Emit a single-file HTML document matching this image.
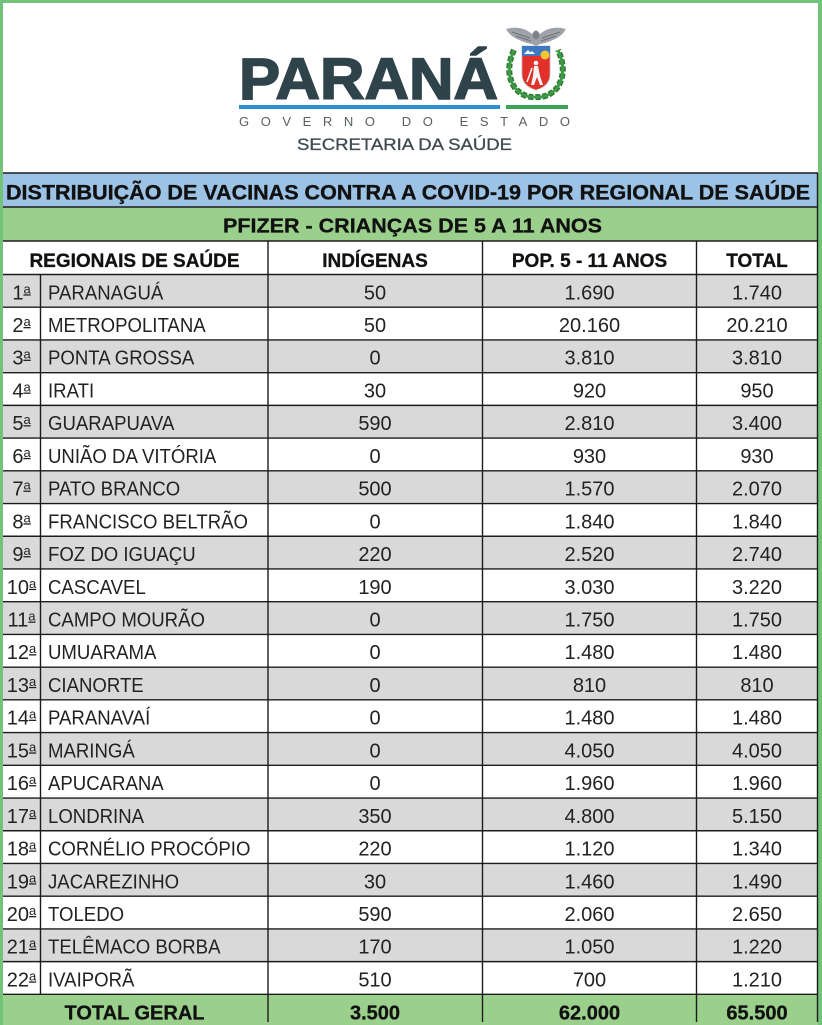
<!DOCTYPE html>
<html><head><meta charset="utf-8"><style>
html,body{margin:0;padding:0;background:#fff;}
svg{display:block;}
</style></head><body>
<svg width="822" height="1025" viewBox="0 0 822 1025" xmlns="http://www.w3.org/2000/svg" font-family="'Liberation Sans', Arial, sans-serif">
<!-- frame -->
<rect x="0" y="0" width="822" height="1025" fill="#74c27a"/>
<rect x="3" y="3" width="815" height="1022" fill="#ffffff"/>

<!-- LOGO -->
<text x="239" y="99" font-size="58" font-weight="bold" fill="#2f434b" stroke="#2f434b" stroke-width="1.6" textLength="259" lengthAdjust="spacingAndGlyphs">PARANÁ</text>
<rect x="239" y="105" width="261" height="4" fill="#2b8fd2"/>
<rect x="506" y="105" width="62" height="4" fill="#3aa655"/>
<text x="239" y="126" font-size="13" fill="#5a5f62" textLength="331" lengthAdjust="spacing">GOVERNO DO ESTADO</text>
<text x="297" y="150" font-size="17" fill="#3d4b51" stroke="#3d4b51" stroke-width="0.3" textLength="215" lengthAdjust="spacingAndGlyphs">SECRETARIA DA SAÚDE</text>
<!-- coat of arms -->
<g>
  <!-- eagle -->
  <path d="M506 29 Q520 25 531 33 L536 37 L541 33 Q552 25 566 29 Q562 36 555 39 Q547 43 540 44 L536 46 L532 44 Q525 43 517 39 Q510 36 506 29Z" fill="#9fa3a7"/>
  <path d="M512 32 L530 38 M560 32 L542 38 M516 36 L531 41 M556 36 L541 41" stroke="#6f7377" stroke-width="1"/>
  <ellipse cx="536" cy="35" rx="3.5" ry="4.5" fill="#7f8387"/>
  <!-- wreath -->
  <path d="M514 50 Q504 72 515 88 Q524 98 536 97 Q548 98 557 88 Q568 72 558 50" fill="none" stroke="#2c7a34" stroke-width="6" stroke-dasharray="5 2"/>
  <path d="M514 50 Q504 72 515 88 Q524 98 536 97 Q548 98 557 88 Q568 72 558 50" fill="none" stroke="#3f9a45" stroke-width="3"/>
  <!-- shield -->
  <path d="M522 46 L550 46 L550 74 Q550 86 536 90 Q522 86 522 74Z" fill="#e2312b" stroke="#b8b8b8" stroke-width="0.8"/>
  <rect x="522" y="46" width="28" height="10" fill="#3d78c2"/>
  <circle cx="545" cy="55" r="4.5" fill="#f2c531"/>
  <path d="M524 54 L528 50 L532 54Z M528 54 L532 51 L535 54Z" fill="#fff"/>
  <circle cx="536" cy="63" r="2.3" fill="#f4f4f4"/>
  <path d="M534 66 L538 66 L540 76 L543 85 L540 85 L537 77 L534 85 L531 85 L533 76Z" fill="#f4f4f4"/>
  <path d="M532 68 L527 82" stroke="#f4f4f4" stroke-width="1.5"/>
</g>

<!-- title rows -->
<rect x="3" y="173" width="814" height="34" fill="#9cc3e5"/>
<rect x="3" y="207" width="814" height="34" fill="#9bd08c"/>
<text x="6" y="199.5" font-size="21" font-weight="bold" fill="#111" stroke="#111" stroke-width="0.35" textLength="804" lengthAdjust="spacingAndGlyphs">DISTRIBUIÇÃO DE VACINAS CONTRA A COVID-19 POR REGIONAL DE SAÚDE</text>
<text x="223" y="232.5" font-size="20" font-weight="bold" fill="#111" stroke="#111" stroke-width="0.3" textLength="379" lengthAdjust="spacingAndGlyphs">PFIZER - CRIANÇAS DE 5 A 11 ANOS</text>

<!-- gray odd rows -->
<g fill="#d9d9d9">
<rect x="3" y="274.5" width="814" height="32.72"/>
<rect x="3" y="339.94" width="814" height="32.72"/>
<rect x="3" y="405.38" width="814" height="32.72"/>
<rect x="3" y="470.82" width="814" height="32.72"/>
<rect x="3" y="536.26" width="814" height="32.72"/>
<rect x="3" y="601.7" width="814" height="32.72"/>
<rect x="3" y="667.14" width="814" height="32.72"/>
<rect x="3" y="732.58" width="814" height="32.72"/>
<rect x="3" y="798.02" width="814" height="32.72"/>
<rect x="3" y="863.46" width="814" height="32.72"/>
<rect x="3" y="928.9" width="814" height="32.72"/>
</g>
<!-- total row -->
<rect x="3" y="994.34" width="815" height="31" fill="#9bd08c"/>

<!-- lines -->
<g stroke="#1c1c1c" stroke-width="1.4" fill="none">
<line x1="3" y1="173" x2="818" y2="173"/>
<line x1="3" y1="207" x2="818" y2="207"/>
<line x1="3" y1="241" x2="818" y2="241"/>
<line x1="3" y1="274.5" x2="818" y2="274.5"/>
<line x1="3" y1="307.22" x2="818" y2="307.22"/>
<line x1="3" y1="339.94" x2="818" y2="339.94"/>
<line x1="3" y1="372.66" x2="818" y2="372.66"/>
<line x1="3" y1="405.38" x2="818" y2="405.38"/>
<line x1="3" y1="438.1" x2="818" y2="438.1"/>
<line x1="3" y1="470.82" x2="818" y2="470.82"/>
<line x1="3" y1="503.54" x2="818" y2="503.54"/>
<line x1="3" y1="536.26" x2="818" y2="536.26"/>
<line x1="3" y1="568.98" x2="818" y2="568.98"/>
<line x1="3" y1="601.7" x2="818" y2="601.7"/>
<line x1="3" y1="634.42" x2="818" y2="634.42"/>
<line x1="3" y1="667.14" x2="818" y2="667.14"/>
<line x1="3" y1="699.86" x2="818" y2="699.86"/>
<line x1="3" y1="732.58" x2="818" y2="732.58"/>
<line x1="3" y1="765.3" x2="818" y2="765.3"/>
<line x1="3" y1="798.02" x2="818" y2="798.02"/>
<line x1="3" y1="830.74" x2="818" y2="830.74"/>
<line x1="3" y1="863.46" x2="818" y2="863.46"/>
<line x1="3" y1="896.18" x2="818" y2="896.18"/>
<line x1="3" y1="928.9" x2="818" y2="928.9"/>
<line x1="3" y1="961.62" x2="818" y2="961.62"/>
<line x1="3" y1="994.34" x2="818" y2="994.34"/>
<line x1="40.5" y1="274.5" x2="40.5" y2="994.34"/>
<line x1="268" y1="241" x2="268" y2="1022"/>
<line x1="482.5" y1="241" x2="482.5" y2="1022"/>
<line x1="696.5" y1="241" x2="696.5" y2="1022"/>
<line x1="817.5" y1="173" x2="817.5" y2="1022"/>
</g>

<!-- header -->
<g font-size="19" font-weight="bold" fill="#111" stroke="#111" stroke-width="0.3" text-anchor="middle">
<text x="134.5" y="267">REGIONAIS DE SAÚDE</text>
<text x="375" y="267">INDÍGENAS</text>
<text x="589.5" y="267">POP. 5 - 11 ANOS</text>
<text x="757" y="267">TOTAL</text>
</g>

<!-- ordinals -->
<g font-size="20" fill="#222" text-anchor="middle">
<text x="21.5" y="299.3">1<tspan font-size="13" dy="-6" text-decoration="underline">a</tspan></text>
<text x="21.5" y="332">2<tspan font-size="13" dy="-6" text-decoration="underline">a</tspan></text>
<text x="21.5" y="364.7">3<tspan font-size="13" dy="-6" text-decoration="underline">a</tspan></text>
<text x="21.5" y="397.5">4<tspan font-size="13" dy="-6" text-decoration="underline">a</tspan></text>
<text x="21.5" y="430.2">5<tspan font-size="13" dy="-6" text-decoration="underline">a</tspan></text>
<text x="21.5" y="462.9">6<tspan font-size="13" dy="-6" text-decoration="underline">a</tspan></text>
<text x="21.5" y="495.6">7<tspan font-size="13" dy="-6" text-decoration="underline">a</tspan></text>
<text x="21.5" y="528.3">8<tspan font-size="13" dy="-6" text-decoration="underline">a</tspan></text>
<text x="21.5" y="561.1">9<tspan font-size="13" dy="-6" text-decoration="underline">a</tspan></text>
<text x="21.5" y="593.8">10<tspan font-size="13" dy="-6" text-decoration="underline">a</tspan></text>
<text x="21.5" y="626.5">11<tspan font-size="13" dy="-6" text-decoration="underline">a</tspan></text>
<text x="21.5" y="659.2">12<tspan font-size="13" dy="-6" text-decoration="underline">a</tspan></text>
<text x="21.5" y="691.9">13<tspan font-size="13" dy="-6" text-decoration="underline">a</tspan></text>
<text x="21.5" y="724.7">14<tspan font-size="13" dy="-6" text-decoration="underline">a</tspan></text>
<text x="21.5" y="757.4">15<tspan font-size="13" dy="-6" text-decoration="underline">a</tspan></text>
<text x="21.5" y="790.1">16<tspan font-size="13" dy="-6" text-decoration="underline">a</tspan></text>
<text x="21.5" y="822.8">17<tspan font-size="13" dy="-6" text-decoration="underline">a</tspan></text>
<text x="21.5" y="855.5">18<tspan font-size="13" dy="-6" text-decoration="underline">a</tspan></text>
<text x="21.5" y="888.3">19<tspan font-size="13" dy="-6" text-decoration="underline">a</tspan></text>
<text x="21.5" y="921">20<tspan font-size="13" dy="-6" text-decoration="underline">a</tspan></text>
<text x="21.5" y="953.7">21<tspan font-size="13" dy="-6" text-decoration="underline">a</tspan></text>
<text x="21.5" y="986.4">22<tspan font-size="13" dy="-6" text-decoration="underline">a</tspan></text>
</g>

<!-- names -->
<g font-size="20" fill="#222" transform="translate(48 0) scale(0.93 1)">
<text x="0" y="299.3">PARANAGUÁ</text>
<text x="0" y="332">METROPOLITANA</text>
<text x="0" y="364.7">PONTA GROSSA</text>
<text x="0" y="397.5">IRATI</text>
<text x="0" y="430.2">GUARAPUAVA</text>
<text x="0" y="462.9">UNIÃO DA VITÓRIA</text>
<text x="0" y="495.6">PATO BRANCO</text>
<text x="0" y="528.3">FRANCISCO BELTRÃO</text>
<text x="0" y="561.1">FOZ DO IGUAÇU</text>
<text x="0" y="593.8">CASCAVEL</text>
<text x="0" y="626.5">CAMPO MOURÃO</text>
<text x="0" y="659.2">UMUARAMA</text>
<text x="0" y="691.9">CIANORTE</text>
<text x="0" y="724.7">PARANAVAÍ</text>
<text x="0" y="757.4">MARINGÁ</text>
<text x="0" y="790.1">APUCARANA</text>
<text x="0" y="822.8">LONDRINA</text>
<text x="0" y="855.5">CORNÉLIO PROCÓPIO</text>
<text x="0" y="888.3">JACAREZINHO</text>
<text x="0" y="921">TOLEDO</text>
<text x="0" y="953.7">TELÊMACO BORBA</text>
<text x="0" y="986.4">IVAIPORÃ</text>
</g>

<!-- indigenas -->
<g font-size="20" fill="#222" text-anchor="middle">
<text x="375" y="299.3">50</text>
<text x="375" y="332">50</text>
<text x="375" y="364.7">0</text>
<text x="375" y="397.5">30</text>
<text x="375" y="430.2">590</text>
<text x="375" y="462.9">0</text>
<text x="375" y="495.6">500</text>
<text x="375" y="528.3">0</text>
<text x="375" y="561.1">220</text>
<text x="375" y="593.8">190</text>
<text x="375" y="626.5">0</text>
<text x="375" y="659.2">0</text>
<text x="375" y="691.9">0</text>
<text x="375" y="724.7">0</text>
<text x="375" y="757.4">0</text>
<text x="375" y="790.1">0</text>
<text x="375" y="822.8">350</text>
<text x="375" y="855.5">220</text>
<text x="375" y="888.3">30</text>
<text x="375" y="921">590</text>
<text x="375" y="953.7">170</text>
<text x="375" y="986.4">510</text>
</g>

<!-- pop -->
<g font-size="20" fill="#222" text-anchor="middle">
<text x="589.5" y="299.3">1.690</text>
<text x="589.5" y="332">20.160</text>
<text x="589.5" y="364.7">3.810</text>
<text x="589.5" y="397.5">920</text>
<text x="589.5" y="430.2">2.810</text>
<text x="589.5" y="462.9">930</text>
<text x="589.5" y="495.6">1.570</text>
<text x="589.5" y="528.3">1.840</text>
<text x="589.5" y="561.1">2.520</text>
<text x="589.5" y="593.8">3.030</text>
<text x="589.5" y="626.5">1.750</text>
<text x="589.5" y="659.2">1.480</text>
<text x="589.5" y="691.9">810</text>
<text x="589.5" y="724.7">1.480</text>
<text x="589.5" y="757.4">4.050</text>
<text x="589.5" y="790.1">1.960</text>
<text x="589.5" y="822.8">4.800</text>
<text x="589.5" y="855.5">1.120</text>
<text x="589.5" y="888.3">1.460</text>
<text x="589.5" y="921">2.060</text>
<text x="589.5" y="953.7">1.050</text>
<text x="589.5" y="986.4">700</text>
</g>

<!-- total -->
<g font-size="20" fill="#222" text-anchor="middle">
<text x="757" y="299.3">1.740</text>
<text x="757" y="332">20.210</text>
<text x="757" y="364.7">3.810</text>
<text x="757" y="397.5">950</text>
<text x="757" y="430.2">3.400</text>
<text x="757" y="462.9">930</text>
<text x="757" y="495.6">2.070</text>
<text x="757" y="528.3">1.840</text>
<text x="757" y="561.1">2.740</text>
<text x="757" y="593.8">3.220</text>
<text x="757" y="626.5">1.750</text>
<text x="757" y="659.2">1.480</text>
<text x="757" y="691.9">810</text>
<text x="757" y="724.7">1.480</text>
<text x="757" y="757.4">4.050</text>
<text x="757" y="790.1">1.960</text>
<text x="757" y="822.8">5.150</text>
<text x="757" y="855.5">1.340</text>
<text x="757" y="888.3">1.490</text>
<text x="757" y="921">2.650</text>
<text x="757" y="953.7">1.220</text>
<text x="757" y="986.4">1.210</text>
</g>

<!-- total geral -->
<g font-size="20" font-weight="bold" fill="#111" stroke="#111" stroke-width="0.3" text-anchor="middle">
<text x="134.5" y="1019.5">TOTAL GERAL</text>
<text x="375" y="1019.5">3.500</text>
<text x="589.5" y="1019.5">62.000</text>
<text x="757" y="1019.5">65.500</text>
</g>
</svg>
</body></html>
